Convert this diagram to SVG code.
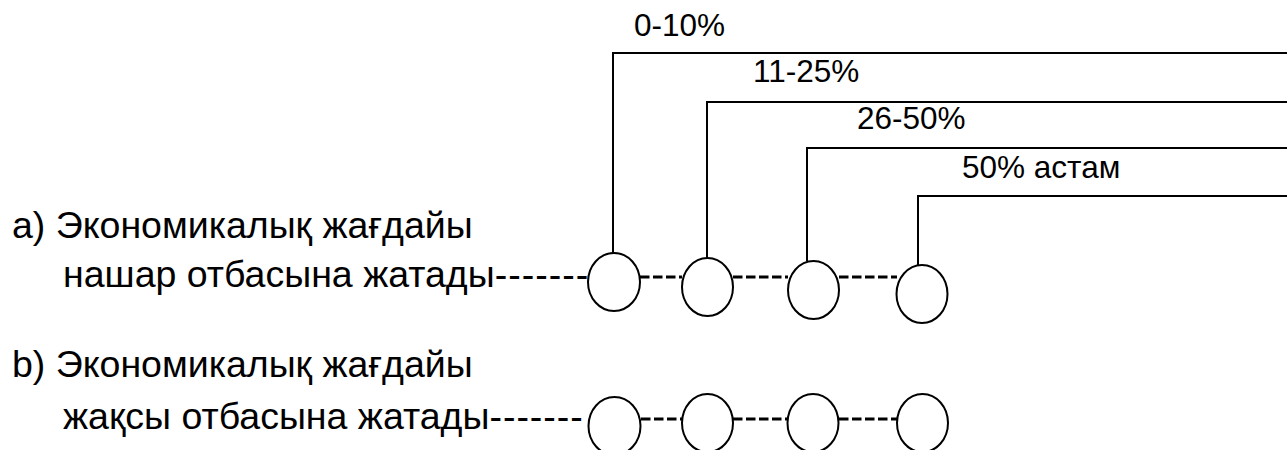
<svg xmlns="http://www.w3.org/2000/svg" width="1287" height="450" viewBox="0 0 1287 450">
<style>
.lbl{font-family:"Liberation Sans",Arial,sans-serif;font-size:37.5px;fill:#000}
.hy{letter-spacing:1px}
.pct{font-family:"Liberation Sans",Arial,sans-serif;font-size:31.5px;fill:#000}
.ln{fill:none;stroke:#000;stroke-width:2}
.dash{fill:none;stroke:#000;stroke-width:3;stroke-dasharray:9.5 3.5}
.node{fill:#fff;stroke:#000;stroke-width:2}
</style>
<rect width="1287" height="450" fill="#fff"/>
<g id="connectors">
<path class="ln" d="M613 253V53H1287"/>
<path class="ln" d="M707 258V102H1287"/>
<path class="ln" d="M807 261V148H1287"/>
<path class="ln" d="M918 265V196H1287"/>
<line class="dash" x1="640" y1="277" x2="682" y2="277"/>
<line class="dash" x1="733" y1="277" x2="788" y2="277"/>
<line class="dash" x1="839" y1="277" x2="897" y2="277"/>
<line class="dash" x1="641" y1="419" x2="682" y2="419"/>
<line class="dash" x1="733" y1="419" x2="787" y2="419"/>
<line class="dash" x1="839" y1="419" x2="897" y2="419"/>
</g>
<g id="labels">
<text class="pct" x="634" y="36">0-10%</text>
<text class="pct" x="753" y="82">11-25%</text>
<text class="pct" x="857" y="129">26-50%</text>
<text class="pct" x="962" y="178">50% астам</text>
</g>
<g id="row-a">
<text class="lbl" x="12" y="238">a) Экономикалық жағдайы</text>
<text class="lbl" x="63" y="287">нашар отбасына жатады<tspan class="hy">-------</tspan></text>
</g>
<g id="row-b">
<text class="lbl" x="12" y="377">b) Экономикалық жағдайы</text>
<text class="lbl" x="63" y="429">жақсы отбасына жатады<tspan class="hy">-------</tspan></text>
</g>
<g id="a1"><ellipse class="node" cx="614" cy="282" rx="26" ry="29"/></g>
<g id="a2"><ellipse class="node" cx="707.5" cy="287" rx="25.5" ry="29"/></g>
<g id="a3"><ellipse class="node" cx="813.5" cy="290" rx="25.5" ry="29"/></g>
<g id="a4"><ellipse class="node" cx="922" cy="294" rx="25.5" ry="29"/></g>
<g id="b1"><ellipse class="node" cx="614.5" cy="426" rx="26" ry="29"/></g>
<g id="b2"><ellipse class="node" cx="707.5" cy="423" rx="25.5" ry="29"/></g>
<g id="b3"><ellipse class="node" cx="813" cy="423" rx="25.5" ry="29"/></g>
<g id="b4"><ellipse class="node" cx="922.5" cy="423" rx="25.5" ry="29"/></g>
</svg>
